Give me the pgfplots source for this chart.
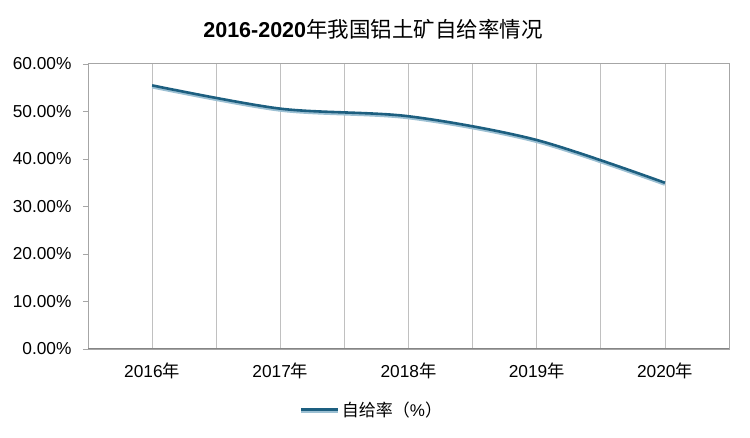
\documentclass[border=0pt]{standalone}
\usepackage{pgfplots}
\pgfplotsset{compat=1.18}
\usepackage{fontspec}
\setmainfont{Liberation Sans}
\newfontfamily\cjk{Noto Sans CJK SC}
\definecolor{darkline}{HTML}{1D5F80}
\definecolor{lightline}{HTML}{9CC0D3}
\definecolor{gridc}{HTML}{C0C0C0}
\definecolor{framec}{HTML}{A6A6A6}
\begin{document}
\begin{tikzpicture}
\useasboundingbox (0,0) rectangle (750bp,438bp);
\node[font=\fontsize{21.5bp}{24bp}\selectfont] at (373bp,409bp)
  {\textbf{2016-2020}{\cjk 年我国铝土矿自给率情况}};
\begin{axis}[
  at={(88bp,89bp)}, anchor=south west,
  scale only axis, width=641bp, height=285bp,
  xmin=-0.5, xmax=4.5, ymin=0, ymax=60,
  xtick={0,1,2,3,4},
  xticklabels={2016{\cjk 年},2017{\cjk 年},2018{\cjk 年},2019{\cjk 年},2020{\cjk 年}},
  minor xtick={-0.5,0.5,1.5,2.5,3.5,4.5},
  xmajorgrids, xminorgrids,
  major grid style={gridc, line width=0.8bp},
  minor grid style={gridc, line width=0.8bp},
  ytick={0,10,20,30,40,50,60},
  yticklabels={0.00\%,10.00\%,20.00\%,30.00\%,40.00\%,50.00\%,60.00\%},
  x tick style={draw=none},
  minor x tick style={draw=none},
  y tick style={framec, line width=0.8bp},
  ytick align=outside, major tick length=5bp,
  ytick pos=left,
  axis line style={framec, line width=1bp},
  tick label style={font=\fontsize{17.3bp}{20bp}\selectfont},
  xticklabel style={yshift=-10bp},
  yticklabel style={xshift=-8bp},
  /pgf/number format/assume math mode=true,
  legend style={at={(0.443,-0.214)}, anchor=center, draw=none, fill=none,
    font=\fontsize{17bp}{20bp}\selectfont, legend cell align=left},
  legend image code/.code={
    \draw[lightline, line width=3.2bp] (0cm,-1.3bp) -- (1.3cm,-1.3bp);
    \draw[darkline, line width=2.6bp] (0cm,0.4bp) -- (1.3cm,0.4bp);
  },
]
\addplot[lightline, line width=3.4bp, smooth, tension=0.5, yshift=-1.4bp, forget plot]
  coordinates {(0,55.5) (1,50.6) (2,49.0) (3,44.0) (4,35.0)};
\addplot[darkline, line width=2.6bp, smooth, tension=0.5]
  coordinates {(0,55.5) (1,50.6) (2,49.0) (3,44.0) (4,35.0)};
\addlegendentry{{\cjk 自给率（}\%{\cjk ）}}
\draw[framec!80!black, line width=1.2bp] (rel axis cs:0,0) -- (rel axis cs:1,0);
\end{axis}
\end{tikzpicture}
\end{document}
